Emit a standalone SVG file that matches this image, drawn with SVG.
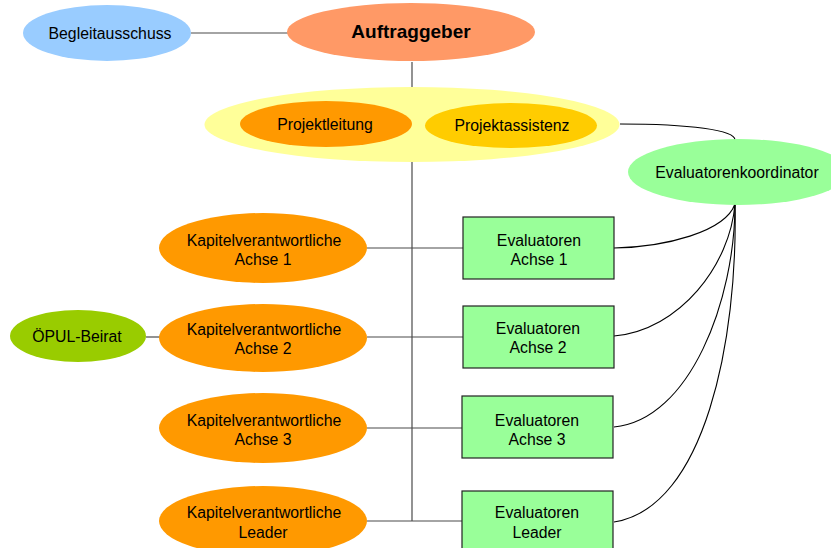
<svg xmlns="http://www.w3.org/2000/svg" width="831" height="548" viewBox="0 0 831 548">
<style>
text{font-family:"Liberation Sans",Arial,sans-serif;font-size:15.8px;fill:#000;text-anchor:middle}
.b{font-weight:bold;font-size:19px}
.ln{stroke:#4a4a4a;stroke-width:1.2;fill:none}
.cv{stroke:#000;stroke-width:1.1;fill:none}
.box{fill:#99FF99;stroke:#222;stroke-width:1.2}
.kap{fill:#FF9900}
</style>
<rect width="831" height="548" fill="#fff"/>
<g id="connectors">
<line class="ln" x1="191" y1="33" x2="288" y2="33"/>
<line class="ln" x1="412" y1="62" x2="412" y2="521"/>
<line class="ln" x1="367" y1="248" x2="463" y2="248"/>
<line class="ln" x1="146" y1="337" x2="160" y2="337"/>
<line class="ln" x1="367" y1="337" x2="463" y2="337"/>
<line class="ln" x1="367" y1="428" x2="463" y2="428"/>
<line class="ln" x1="367" y1="521" x2="463" y2="521"/>
<path class="cv" d="M620,124 C690,124 735,130 735,140"/>
<path class="cv" d="M614,248 C665,247 725,232 735,204"/>
<path class="cv" d="M614,336 C680,330 730,265 735,204"/>
<path class="cv" d="M614,427 C690,420 735,300 735,204"/>
<path class="cv" d="M614,522 C705,508 738,340 735,204"/>
</g>
<g id="begleitausschuss"><ellipse cx="107" cy="33" rx="84" ry="28" fill="#99CCFF"/><text x="110" y="39">Begleitausschuss</text></g>
<g id="auftraggeber"><ellipse cx="411" cy="32" rx="124" ry="29" fill="#FF9966"/><text class="b" x="411" y="38">Auftraggeber</text></g>
<g id="projektteam"><ellipse cx="412" cy="124.5" rx="207.5" ry="37.5" fill="#FFFF99"/></g>
<g id="projektleitung"><ellipse cx="326" cy="124" rx="86" ry="23" fill="#FF9900"/><text x="325" y="130">Projektleitung</text></g>
<g id="projektassistenz"><ellipse cx="511" cy="125.5" rx="86" ry="22.5" fill="#FFCC00"/><text x="512" y="131">Projektassistenz</text></g>
<g id="evaluatorenkoordinator"><ellipse cx="738" cy="172" rx="110" ry="33" fill="#99FF99"/><text x="737" y="178">Evaluatorenkoordinator</text></g>
<g id="kap1"><ellipse class="kap" cx="263" cy="248" rx="104" ry="35"/><text x="264" y="246">Kapitelverantwortliche</text><text x="263" y="265">Achse 1</text></g>
<g id="eval1"><rect class="box" x="463" y="217" width="151" height="62"/><text x="539" y="246">Evaluatoren</text><text x="539" y="265">Achse 1</text></g>
<g id="oepul"><ellipse cx="78" cy="336" rx="68" ry="26" fill="#99CC00"/><text x="77" y="342">ÖPUL-Beirat</text></g>
<g id="kap2"><ellipse class="kap" cx="263" cy="338" rx="104" ry="34"/><text x="264" y="335">Kapitelverantwortliche</text><text x="263" y="354">Achse 2</text></g>
<g id="eval2"><rect class="box" x="463" y="306" width="151" height="62"/><text x="538" y="334">Evaluatoren</text><text x="538" y="353">Achse 2</text></g>
<g id="kap3"><ellipse class="kap" cx="263" cy="428" rx="104" ry="35"/><text x="264" y="426">Kapitelverantwortliche</text><text x="263" y="445">Achse 3</text></g>
<g id="eval3"><rect class="box" x="462" y="396" width="151" height="62"/><text x="537" y="426">Evaluatoren</text><text x="537" y="445">Achse 3</text></g>
<g id="kapL"><ellipse class="kap" cx="263" cy="521" rx="104" ry="35"/><text x="264" y="518">Kapitelverantwortliche</text><text x="263" y="538">Leader</text></g>
<g id="evalL"><rect class="box" x="462" y="491" width="151" height="62"/><text x="537" y="518">Evaluatoren</text><text x="537" y="538">Leader</text></g>
</svg>
